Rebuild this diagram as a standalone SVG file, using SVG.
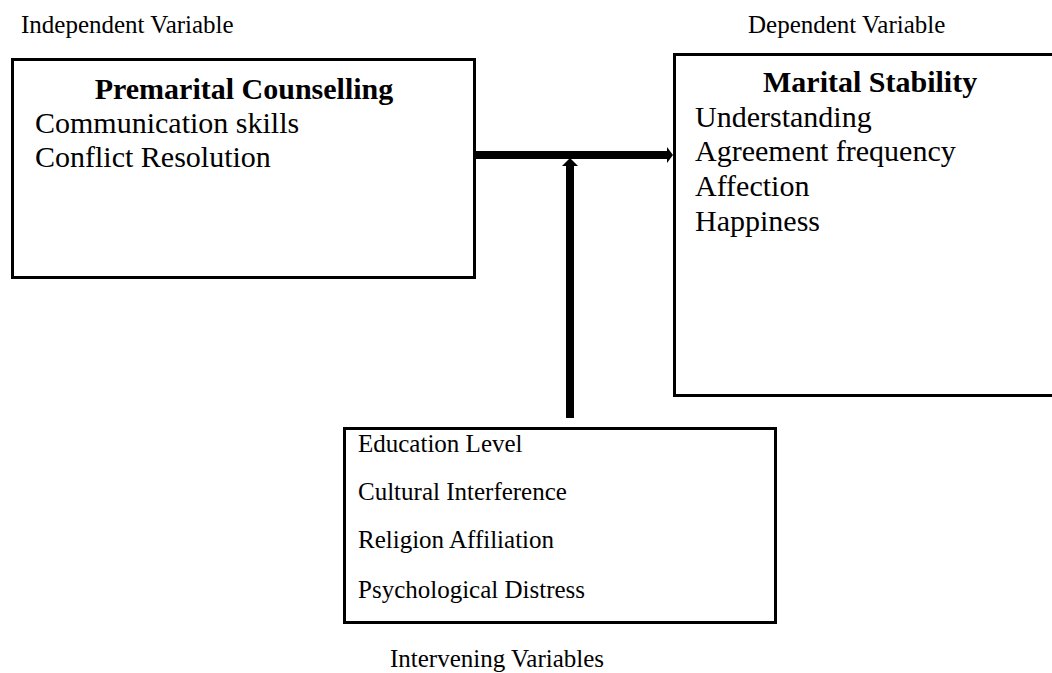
<svg xmlns="http://www.w3.org/2000/svg" width="1052" height="673" viewBox="0 0 1052 673">
<style>
text{font-family:"Liberation Serif","Times New Roman",serif;fill:#000}
.lbl{font-size:25px}
.big{font-size:30px}
.ttl{font-size:30px;font-weight:bold}
.box{fill:#fff;stroke:#000;stroke-width:3}
</style>
<rect width="1052" height="673" fill="#fff"/>
<text class="lbl" x="21" y="33">Independent Variable</text>
<text class="lbl" x="748" y="33">Dependent Variable</text>
<text class="lbl" x="390" y="667">Intervening Variables</text>
<g id="premarital">
<rect class="box" x="12.5" y="59.5" width="462" height="218"/>
<text class="ttl" x="244" y="99" text-anchor="middle">Premarital Counselling</text>
<text class="big" x="35" y="133">Communication skills</text>
<text class="big" x="35" y="167">Conflict Resolution</text>
</g>
<g id="marital">
<rect class="box" x="674.5" y="54.5" width="400" height="341"/>
<text class="ttl" x="763" y="92">Marital Stability</text>
<text class="big" x="695" y="127">Understanding</text>
<text class="big" x="695" y="161">Agreement frequency</text>
<text class="big" x="695" y="196">Affection</text>
<text class="big" x="695" y="231">Happiness</text>
</g>
<g id="intervening">
<rect class="box" x="344.5" y="428.5" width="431" height="194"/>
<text class="lbl" x="358" y="452">Education Level</text>
<text class="lbl" x="358" y="500">Cultural Interference</text>
<text class="lbl" x="358" y="548">Religion Affiliation</text>
<text class="lbl" x="358" y="598">Psychological Distress</text>
</g>
<g id="connectors" fill="#000">
<rect x="475" y="151" width="193" height="8"/>
<polygon points="667,147 673,155 667,163"/>
<rect x="566" y="164" width="8" height="254"/>
<polygon points="562,166 570,158 578,166"/>
</g>
</svg>
